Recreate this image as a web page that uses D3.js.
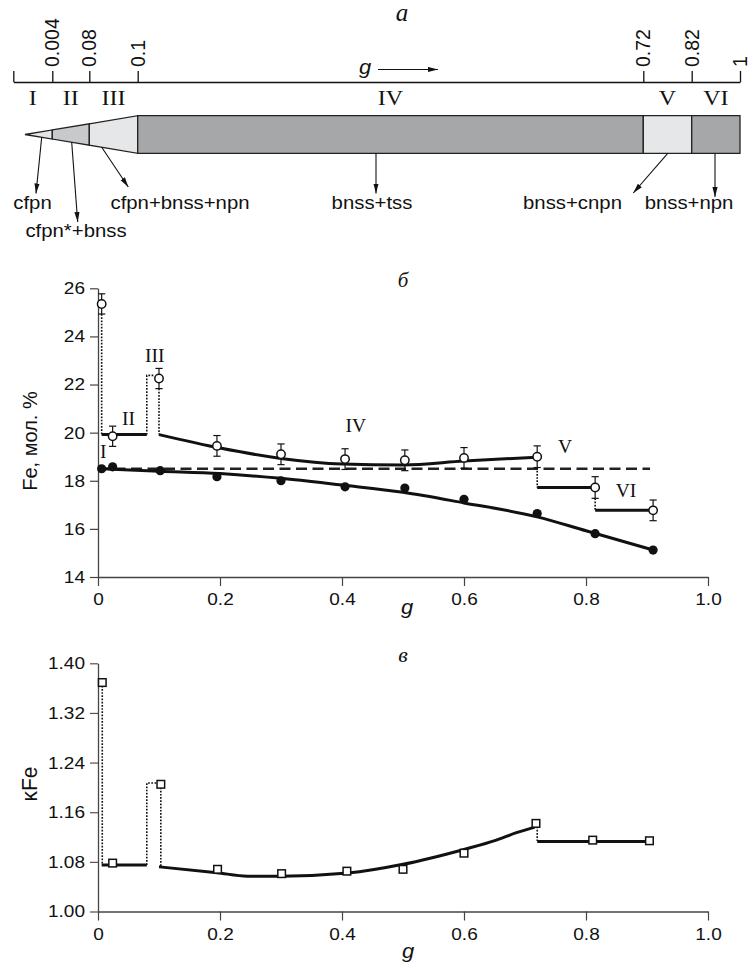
<!DOCTYPE html>
<html><head><meta charset="utf-8">
<script src="https://cdn.jsdelivr.net/npm/d3@7"></script>
<style>html,body{margin:0;padding:0;background:#fff}svg{display:block}</style>
</head><body>
<script>
// ---------------- DATA ----------------
// panel a: zone boundaries along g, zone names, phase labels
const zoneBounds = [0, 0.004, 0.08, 0.1, 0.72, 0.82, 1];
const zoneNames = ["I", "II", "III", "IV", "V", "VI"];
const phaseLabels = ["cfpn", "cfpn*+bnss", "cfpn+bnss+npn", "bnss+tss", "bnss+cnpn", "bnss+npn"];

// panel б: Fe, mol.% vs g
const openG   = [0.006, 0.024, 0.1, 0.195, 0.3, 0.405, 0.503, 0.6, 0.72, 0.815, 0.91];
const openFe  = [25.35, 19.85, 22.25, 19.45, 19.1, 18.9, 18.85, 18.95, 19.0, 17.72, 16.77];
const openErr = [0.42, 0.42, 0.42, 0.43, 0.43, 0.43, 0.43, 0.43, 0.45, 0.45, 0.43];
const filledG  = [0.006, 0.024, 0.102, 0.195, 0.3, 0.405, 0.503, 0.6, 0.72, 0.815, 0.91];
const filledFe = [18.5, 18.58, 18.42, 18.17, 18.0, 17.75, 17.7, 17.23, 16.64, 15.8, 15.12];
const filledFitG  = [0.006, 0.1, 0.2, 0.3, 0.4, 0.5, 0.6, 0.72, 0.8, 0.91];
const filledFitFe = [18.5, 18.4, 18.3, 18.1, 17.82, 17.52, 17.08, 16.5, 15.92, 15.12];
const openFitG  = [0.1, 0.2, 0.3, 0.4, 0.5, 0.6, 0.72];
const openFitFe = [19.92, 19.36, 18.93, 18.7, 18.66, 18.82, 18.98];
const openStepG  = [[0.006, 0.08], [0.72, 0.815], [0.815, 0.91]];
const openStepFe = [19.92, 17.72, 16.77];
const openZoneIII = 22.38;          // dotted level of zone III
const initialFe = 18.5;             // dashed line
const initialEnd = 0.905;
const zoneLabelG  = [0.0087, 0.050, 0.093, 0.4226, 0.7656, 0.8656];
const zoneLabelFe = [18.94, 20.31, 22.95, 20.04, 19.17, 17.34];

// panel в: kFe vs g
const kG  = [0.007, 0.024, 0.103, 0.196, 0.301, 0.408, 0.5, 0.6, 0.718, 0.811, 0.904];
const kFe = [1.369, 1.078, 1.205, 1.068, 1.061, 1.065, 1.068, 1.094, 1.142, 1.115, 1.114];
const kFitG = [0.1, 0.195, 0.245, 0.3, 0.41, 0.5, 0.6, 0.653, 0.686, 0.716];
const kFit  = [1.072, 1.0625, 1.057, 1.057, 1.062, 1.076, 1.100, 1.115, 1.127, 1.136];
const kStepG = [[0.006, 0.08], [0.72, 0.91]];
const kStepV = [1.075, 1.113];
const kZoneIII = 1.207;

const xTicks = [0, 0.2, 0.4, 0.6, 0.8, 1.0];
const feTicks = [14, 16, 18, 20, 22, 24, 26];
const kTicks = [1.00, 1.08, 1.16, 1.24, 1.32, 1.40];

// ---------------- LAYOUT ----------------
const W = 753, H = 968;
const SANS = "'Liberation Sans', Arial, Helvetica, sans-serif";
const SERIF = "'Liberation Serif', 'Times New Roman', serif";
const INK = "#111";
const AX = "#444";

const svg = d3.select("body").append("svg").attr("width", W).attr("height", H)
  .attr("viewBox", `0 0 ${W} ${H}`);

const defs = svg.append("defs");
defs.append("marker").attr("id", "ah").attr("markerUnits", "userSpaceOnUse")
  .attr("markerWidth", 11).attr("markerHeight", 6).attr("refX", 10).attr("refY", 3)
  .attr("orient", "auto").append("path").attr("d", "M0,0.4 L10,3 L0,5.6 Z").attr("fill", INK);

function label(parent, x, y, s, o) {
  const t = parent.append("text")
    .attr("transform", `translate(${x},${y}) scale(${o.sx || 1},1)` + (o.rot ? ` rotate(${o.rot})` : ""))
    .attr("font-family", o.ff || SANS).attr("font-size", o.fs)
    .attr("text-anchor", o.anchor || "middle").attr("fill", INK).text(s);
  if (o.italic) t.attr("font-style", "italic");
  if (o.dy) t.attr("dy", o.dy);
  if (o.ls) t.attr("letter-spacing", o.ls);
  return t;
}

// ---------- Panel a ----------
const aAxisY = 82;
const xA = d3.scaleLinear().domain(zoneBounds).range([13.3, 52.3, 89.3, 137.7, 643.3, 691.7, 740]);
const gA = svg.append("g");
const axA = gA.append("g").attr("transform", `translate(0,${aAxisY})`)
  .call(d3.axisTop(xA).tickValues(zoneBounds).tickSize(11).tickSizeOuter(0).tickFormat(""));
axA.select(".domain").attr("stroke", INK).attr("stroke-width", 1.3);
axA.selectAll(".tick line").attr("stroke", INK).attr("stroke-width", 1.3);
zoneBounds.slice(1).forEach(b => {
  label(gA, xA(b), aAxisY - 15, String(b), {fs: 19.5, rot: -90, anchor: "start", dy: "0.36em"});
});
label(gA, 402, 21, "а", {fs: 25, ff: SERIF, italic: true});
label(gA, 365, 74, "g", {fs: 20, italic: true, sx: 1.1});
gA.append("line").attr("x1", 378).attr("x2", 438).attr("y1", 69.5).attr("y2", 69.5)
  .attr("stroke", INK).attr("stroke-width", 1.2).attr("marker-end", "url(#ah)");

// zone names
zoneNames.forEach((n, i) => {
  const cx = (xA(zoneBounds[i]) + xA(zoneBounds[i + 1])) / 2;
  label(gA, cx, 105, n, {fs: 20, ff: SERIF, sx: 1.2});
});

// bar (wedge for zones I–III, rectangle for IV–VI)
const barCY = 134.5, barHalf = 18.8;
const tipX = 25;
const wedgeEnd = xA(0.1);
const half = x => barHalf * (x - tipX) / (wedgeEnd - tipX);
const zoneFill = ["#e4e5e6", "#c8c9cb", "#e6e7e8", "#a6a7a9", "#e6e7e8", "#a6a7a9"];
zoneNames.forEach((n, i) => {
  const x0 = i === 0 ? tipX : xA(zoneBounds[i]);
  const x1 = xA(zoneBounds[i + 1]);
  let pts;
  if (i < 3) {
    pts = [[x0, barCY - half(x0)], [x1, barCY - half(x1)], [x1, barCY + half(x1)], [x0, barCY + half(x0)]];
  } else {
    pts = [[x0, barCY - barHalf], [x1, barCY - barHalf], [x1, barCY + barHalf], [x0, barCY + barHalf]];
  }
  gA.append("path").attr("d", d3.line()(pts) + "Z").attr("fill", zoneFill[i])
    .attr("stroke", "#222").attr("stroke-width", 1.3).attr("stroke-linejoin", "miter");
});

// phase arrows & labels
const arrowStartX = [41.7, 71.7, 101.7, 376, 667.7, 715];
const arrowEnd = [[36, 193.5], [77.7, 222], [128.3, 187], [376, 193.5], [633.3, 193], [715, 197]];
const phaseX = [32.5, 76, 180, 372, 572.5, 689];
const phaseY = [209, 237, 209, 209, 209, 209];
phaseLabels.forEach((p, i) => {
  const sx = arrowStartX[i];
  const sy = i < 3 ? barCY + half(sx) : barCY + barHalf;
  gA.append("line").attr("x1", sx).attr("y1", sy).attr("x2", arrowEnd[i][0]).attr("y2", arrowEnd[i][1])
    .attr("stroke", INK).attr("stroke-width", 1.1).attr("marker-end", "url(#ah)");
  label(gA, phaseX[i], phaseY[i], p, {fs: 18, sx: 1.13});
});

// ---------- Panel б ----------
const xB = d3.scaleLinear().domain([0, 1]).range([98, 708]);
const yB = d3.scaleLinear().domain([14, 26]).range([577, 288.3]);
const fmtX = d => d === 0 ? "0" : d3.format(".1f")(d);
const gB = svg.append("g");

function styleAxis(ax, tickColor) {
  ax.attr("font-size", 17).attr("font-family", SANS);
  ax.select(".domain").attr("stroke", AX).attr("stroke-width", 1.3);
  ax.selectAll(".tick line").attr("stroke", tickColor || AX).attr("stroke-width", 1.2);
  ax.selectAll(".tick text").attr("fill", INK).attr("transform", "scale(1.12,1)");
}
const axBx = gB.append("g").attr("transform", `translate(0,${yB(14)})`)
  .call(d3.axisBottom(xB).tickValues(xTicks).tickSize(9).tickSizeOuter(0).tickPadding(7).tickFormat(fmtX));
styleAxis(axBx);
const axBy = gB.append("g").attr("transform", `translate(${xB(0)},0)`)
  .call(d3.axisLeft(yB).tickValues(feTicks).tickSize(8).tickSizeOuter(0).tickPadding(3.6).tickFormat(d3.format("d")));
styleAxis(axBy);

label(gB, 403, 287, "б", {fs: 21, ff: SERIF, italic: true});
label(gB, 407, 614, "g", {fs: 20, italic: true, sx: 1.1});
label(gB, 36.5, 441, "Fe, мол. %", {fs: 20, rot: -90, sx: 1.05});

const lineB = d3.line().x(d => xB(d[0])).y(d => yB(d[1]));
const dotted = (g, pts, sc) => g.append("path").attr("d", sc(pts)).attr("fill", "none")
  .attr("stroke", INK).attr("stroke-width", 1.6).attr("stroke-dasharray", "1.7,1.5");
const solid = (g, pts, sc, curve) => g.append("path").attr("d", (curve ? sc.curve(curve) : sc)(pts))
  .attr("fill", "none").attr("stroke", INK).attr("stroke-width", 3).attr("stroke-linecap", "butt");

// dashed initial composition
gB.append("path").attr("d", lineB([[0, initialFe], [initialEnd, initialFe]]))
  .attr("stroke", "#222").attr("stroke-width", 2.4).attr("stroke-dasharray", "11,5.5").attr("fill", "none");

// dotted connectors
dotted(gB, [[openG[0], openFe[0] - openErr[0]], [openG[0], openStepFe[0]]], lineB);
dotted(gB, [[openStepG[0][1], openStepFe[0]], [openStepG[0][1], openZoneIII], [openStepG[0][1] + 0.012, openZoneIII]], lineB);
dotted(gB, [[openG[2], openFe[2] - openErr[2]], [openG[2], openFitFe[0]]], lineB);
dotted(gB, [[openStepG[1][0], openFe[8] - openErr[8]], [openStepG[1][0], openStepFe[1]]], lineB);
dotted(gB, [[openStepG[2][0], openFe[9] - openErr[9]], [openStepG[2][0], openStepFe[2]]], lineB);

// step segments + fits
openStepG.forEach((s, i) => solid(gB, [[s[0], openStepFe[i]], [s[1], openStepFe[i]]], lineB));
solid(gB, openFitG.map((g, i) => [g, openFitFe[i]]), d3.line().x(d => xB(d[0])).y(d => yB(d[1])), d3.curveMonotoneX);
solid(gB, filledFitG.map((g, i) => [g, filledFitFe[i]]), d3.line().x(d => xB(d[0])).y(d => yB(d[1])), d3.curveMonotoneX);

// filled points
gB.selectAll("circle.f").data(filledG.map((g, i) => [g, filledFe[i]])).join("circle")
  .attr("cx", d => xB(d[0])).attr("cy", d => yB(d[1])).attr("r", 4.6).attr("fill", INK);

// error bars + open points
openG.forEach((g, i) => {
  const x = xB(g), y0 = yB(openFe[i] - openErr[i]), y1 = yB(openFe[i] + openErr[i]);
  gB.append("line").attr("x1", x).attr("x2", x).attr("y1", y0).attr("y2", y1).attr("stroke", INK).attr("stroke-width", 1.2);
  [y0, y1].forEach(y => gB.append("line").attr("x1", x - 3.6).attr("x2", x + 3.6).attr("y1", y).attr("y2", y)
    .attr("stroke", INK).attr("stroke-width", 1.2));
});
gB.selectAll("circle.o").data(openG.map((g, i) => [g, openFe[i]])).join("circle")
  .attr("cx", d => xB(d[0])).attr("cy", d => yB(d[1])).attr("r", 4.2)
  .attr("fill", "#fff").attr("stroke", INK).attr("stroke-width", 1.5);

// zone labels
zoneNames.forEach((n, i) => label(gB, xB(zoneLabelG[i]), yB(zoneLabelFe[i]), n, {fs: 19.5, ff: SERIF}));

// ---------- Panel в ----------
const yC = d3.scaleLinear().domain([1.0, 1.4]).range([911.5, 663.3]);
const gC = svg.append("g");
const axCx = gC.append("g").attr("transform", `translate(0,${yC(1.0)})`)
  .call(d3.axisBottom(xB).tickValues(xTicks).tickSize(9).tickSizeOuter(0).tickPadding(7).tickFormat(fmtX));
styleAxis(axCx);
const axCy = gC.append("g").attr("transform", `translate(${xB(0)},0)`)
  .call(d3.axisLeft(yC).tickValues(kTicks).tickSize(8).tickSizeOuter(0).tickPadding(3.6).tickFormat(d3.format(".2f")));
styleAxis(axCy, "#6a4848");

label(gC, 403, 662, "в", {fs: 22, ff: SERIF, italic: true});
label(gC, 408, 958, "g", {fs: 20, italic: true, sx: 1.1});
label(gC, 36.5, 784, "κFe", {fs: 21, rot: -90, sx: 1.05});

const lineC = d3.line().x(d => xB(d[0])).y(d => yC(d[1]));
dotted(gC, [[kG[0], kFe[0]], [kG[0], kStepV[0]]], lineC);
dotted(gC, [[kStepG[0][1], kStepV[0]], [kStepG[0][1], kZoneIII], [kStepG[0][1] + 0.016, kZoneIII]], lineC);
dotted(gC, [[kG[2], kFe[2]], [kG[2], kFit[0]]], lineC);
dotted(gC, [[kStepG[1][0], kFe[8]], [kStepG[1][0], kStepV[1]]], lineC);

kStepG.forEach((s, i) => solid(gC, [[s[0], kStepV[i]], [s[1], kStepV[i]]], lineC));
solid(gC, kFitG.map((g, i) => [g, kFit[i]]), d3.line().x(d => xB(d[0])).y(d => yC(d[1])), d3.curveMonotoneX);

const sq = 7.6;
gC.selectAll("rect.k").data(kG.map((g, i) => [g, kFe[i]])).join("rect")
  .attr("x", d => xB(d[0]) - sq / 2).attr("y", d => yC(d[1]) - sq / 2).attr("width", sq).attr("height", sq)
  .attr("fill", "#fff").attr("stroke", INK).attr("stroke-width", 1.5);
</script>
</body></html>
